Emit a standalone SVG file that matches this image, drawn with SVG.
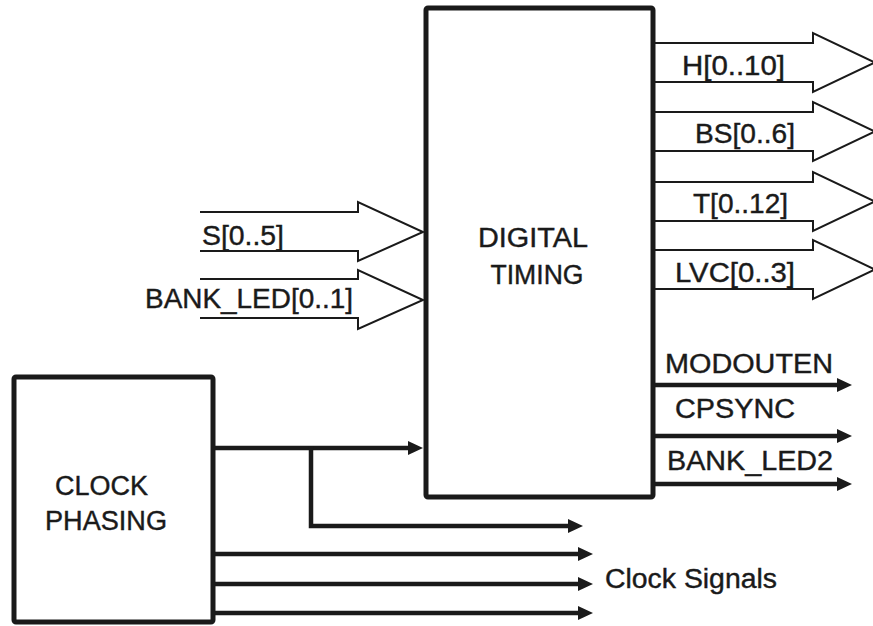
<svg xmlns="http://www.w3.org/2000/svg" width="873" height="626" viewBox="0 0 873 626">
<defs>
<style>
text{font-family:"Liberation Sans",Arial,sans-serif;font-size:27px;fill:#1a1a1a;stroke:#1a1a1a;stroke-width:0.4}
.box{fill:#fff;stroke:#1a1a1a;stroke-width:5}
.bus{fill:none;stroke:#1a1a1a;stroke-width:2;stroke-linejoin:miter}
.wire{fill:none;stroke:#1a1a1a;stroke-width:4.5}
.mid{text-anchor:middle}
</style>
<marker id="ah" viewBox="0 0 15 14" refX="8" refY="7" markerWidth="15" markerHeight="14" markerUnits="userSpaceOnUse" orient="auto">
<path d="M0,0 L15,7 L0,14 Z" fill="#1a1a1a"/>
</marker>
</defs>
<rect width="873" height="626" fill="#fff"/>

<g id="digital-timing">
<rect class="box" x="426" y="8" width="227" height="489" rx="2"/>
<text class="mid" x="533" y="247" textLength="110" lengthAdjust="spacingAndGlyphs">DIGITAL</text>
<text class="mid" x="537" y="284" textLength="93" lengthAdjust="spacingAndGlyphs">TIMING</text>
</g>

<g id="clock-phasing">
<rect class="box" x="14" y="377" width="199" height="245" rx="2"/>
<text x="55" y="495" textLength="93" lengthAdjust="spacingAndGlyphs">CLOCK</text>
<text x="45" y="530" textLength="122" lengthAdjust="spacingAndGlyphs">PHASING</text>
</g>

<g id="connectors">
<path class="bus" d="M200,212 H358 V202 L423,232 L358,261 V251 H200"/>
<path class="bus" d="M200,279 H358 V270 L423,300 L358,329 V318 H200"/>
<path class="bus" d="M655,43 H813 V33 L875,62.5 L813,92 V82 H655"/>
<path class="bus" d="M655,112 H813 V102 L875,131.5 L813,161 V151 H655"/>
<path class="bus" d="M655,182 H813 V172 L875,201.5 L813,231 V221 H655"/>
<path class="bus" d="M655,250 H813 V240 L875,269.5 L813,299 V289 H655"/>
<path class="wire" d="M655,385 H845" marker-end="url(#ah)"/>
<path class="wire" d="M655,436 H845" marker-end="url(#ah)"/>
<path class="wire" d="M655,484 H845" marker-end="url(#ah)"/>
<path class="wire" d="M215,448 H416" marker-end="url(#ah)"/>
<path class="wire" d="M311,446 V526 H576" marker-end="url(#ah)"/>
<path class="wire" d="M215,554 H586" marker-end="url(#ah)"/>
<path class="wire" d="M215,584 H586" marker-end="url(#ah)"/>
<path class="wire" d="M215,613 H586" marker-end="url(#ah)"/>
</g>

<g id="labels">
<text x="682" y="75" textLength="103" lengthAdjust="spacingAndGlyphs">H[0..10]</text>
<text x="695" y="143" textLength="100" lengthAdjust="spacingAndGlyphs">BS[0..6]</text>
<text x="693" y="213" textLength="95" lengthAdjust="spacingAndGlyphs">T[0..12]</text>
<text x="675" y="282" textLength="120" lengthAdjust="spacingAndGlyphs">LVC[0..3]</text>
<text x="202" y="245" textLength="82" lengthAdjust="spacingAndGlyphs">S[0..5]</text>
<text x="145" y="308" textLength="208" lengthAdjust="spacingAndGlyphs">BANK_LED[0..1]</text>
<text x="665" y="373" textLength="168" lengthAdjust="spacingAndGlyphs">MODOUTEN</text>
<text x="675" y="418" textLength="120" lengthAdjust="spacingAndGlyphs">CPSYNC</text>
<text x="667" y="470" textLength="166" lengthAdjust="spacingAndGlyphs">BANK_LED2</text>
<text x="605" y="588" textLength="172" lengthAdjust="spacingAndGlyphs">Clock Signals</text>
</g>
</svg>
